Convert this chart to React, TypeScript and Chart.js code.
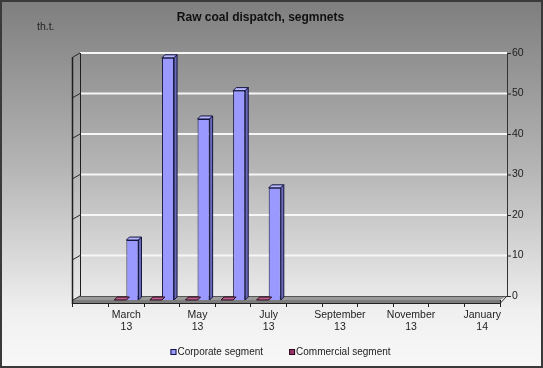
import React, { useEffect, useRef } from 'react';
import { Chart, registerables } from 'chart.js';

Chart.register(...registerables);

const titleText = 'Raw coal dispatch, segmnets';
const unitText = 'th.t.';
const categories = [
  'February 13', 'March 13', 'April 13', 'May 13', 'June 13', 'July 13',
  'August 13', 'September 13', 'October 13', 'November 13', 'December 13', 'January 14',
];
const tickLabels: string[][] = [
  [], ['March', '13'], [], ['May', '13'], [], ['July', '13'],
  [], ['September', '13'], [], ['November', '13'], [], ['January', '14'],
];
const corporate = [null, 14.8, 59.8, 44.7, 51.7, 27.7, null, null, null, null, null, null];
const commercial = [null, 0, 0, 0, 0, 0, null, null, null, null, null, null];
const yTicks = [0, 10, 20, 30, 40, 50, 60];
const legendOrder = [1, 0];

const FONT = "'Liberation Sans', Arial, sans-serif";
const WDX = 7; // wall depth x
const WDY = 4; // wall depth y
const BD = 3; // bar depth

const faceColors: Record<number, { top: string; side: string; line: string }> = {
  0: { top: '#b85c8a', side: '#662244', line: '#2a0a1a' },
  1: { top: '#b8b8ff', side: '#6a6ab8', line: '#141440' },
};

const decorPlugin = {
  id: 'decor3d',
  beforeDraw(chart: any) {
    const { ctx, width, height } = chart;
    ctx.save();
    const g = ctx.createLinearGradient(0, 0, 0, height);
    g.addColorStop(0, '#7e7e7e');
    g.addColorStop(0.45, '#b4b4b4');
    g.addColorStop(0.85, '#f0f0f0');
    g.addColorStop(1, '#f8f8f8');
    ctx.fillStyle = g;
    ctx.fillRect(0, 0, width, height);
    ctx.strokeStyle = '#3a3a3a';
    ctx.lineWidth = 2;
    ctx.strokeRect(1, 1, width - 2, height - 2);
    ctx.fillStyle = '#111';
    ctx.textBaseline = 'middle';
    ctx.textAlign = 'center';
    ctx.font = `bold 12px ${FONT}`;
    ctx.fillText(titleText, 260.5, 18);
    ctx.textAlign = 'left';
    ctx.font = `10.5px ${FONT}`;
    ctx.fillStyle = '#222';
    ctx.fillText(unitText, 37, 27);
    ctx.restore();
  },
  beforeDatasetsDraw(chart: any) {
    const { ctx, chartArea } = chart;
    const { left, right, top, bottom } = chartArea;
    const ys = chart.scales.y;
    ctx.save();
    // floor top surface
    ctx.beginPath();
    ctx.moveTo(left, bottom);
    ctx.lineTo(left + WDX, bottom - WDY);
    ctx.lineTo(right + WDX, bottom - WDY);
    ctx.lineTo(right, bottom);
    ctx.closePath();
    ctx.fillStyle = '#9a9a9a';
    ctx.fill();
    // floor front face
    ctx.fillStyle = '#7c7c7c';
    ctx.fillRect(left, bottom, right - left, 3);
    ctx.strokeStyle = '#222';
    ctx.lineWidth = 1;
    ctx.beginPath();
    ctx.moveTo(left, bottom + 3.5);
    ctx.lineTo(right, bottom + 3.5);
    ctx.stroke();
    // back wall gridlines
    yTicks.forEach((v) => {
      const p = ys.getPixelForValue(v) - WDY;
      if (v > 0) {
        ctx.strokeStyle = '#f6f6f6';
        ctx.lineWidth = 2;
        ctx.beginPath();
        ctx.moveTo(left + WDX, p);
        ctx.lineTo(right + WDX, p);
        ctx.stroke();
      }
      ctx.strokeStyle = '#2a2a2a';
      ctx.lineWidth = 1;
      ctx.beginPath();
      ctx.moveTo(left, p + WDY);
      ctx.lineTo(left + WDX, p);
      ctx.stroke();
      ctx.beginPath();
      ctx.moveTo(right + WDX, p + 0.5);
      ctx.lineTo(right + WDX + 4, p + 0.5);
      ctx.stroke();
    });
    ctx.strokeStyle = '#555';
    ctx.beginPath();
    ctx.moveTo(left + WDX, bottom - WDY + 0.5);
    ctx.lineTo(right + WDX, bottom - WDY + 0.5);
    ctx.stroke();
    ctx.strokeStyle = '#1e1e1e';
    ctx.lineWidth = 1.5;
    ctx.beginPath();
    ctx.moveTo(left - 0.5, top);
    ctx.lineTo(left - 0.5, bottom + 4);
    ctx.stroke();
    ctx.lineWidth = 1;
    ctx.beginPath();
    ctx.moveTo(left + WDX + 0.5, top - WDY);
    ctx.lineTo(left + WDX + 0.5, bottom - WDY);
    ctx.stroke();
    ctx.strokeStyle = '#333';
    ctx.beginPath();
    ctx.moveTo(right + WDX + 0.5, top - WDY);
    ctx.lineTo(right + WDX + 0.5, bottom - WDY);
    ctx.stroke();
    ctx.beginPath();
    ctx.moveTo(right, bottom + 3.5);
    ctx.lineTo(right + WDX, bottom - WDY);
    ctx.stroke();
    ctx.restore();
  },
  afterDatasetDraw(chart: any, args: any) {
    const { ctx } = chart;
    const meta = args.meta;
    const idx = args.index;
    const data = chart.data.datasets[idx].data;
    const c = faceColors[idx];
    ctx.save();
    ctx.lineWidth = 1;
    ctx.strokeStyle = c.line;
    meta.data.forEach((el: any, i: number) => {
      if (data[i] === null || data[i] === undefined) return;
      const { x, y, base, width } = el.getProps(['x', 'y', 'base', 'width'], true);
      const l = x - width / 2;
      const r = x + width / 2;
      ctx.beginPath();
      ctx.moveTo(l, y);
      ctx.lineTo(l + BD, y - BD);
      ctx.lineTo(r + BD, y - BD);
      ctx.lineTo(r, y);
      ctx.closePath();
      ctx.fillStyle = c.top;
      ctx.fill();
      ctx.stroke();
      if (base - y > 0.5) {
        ctx.beginPath();
        ctx.moveTo(r, y);
        ctx.lineTo(r + BD, y - BD);
        ctx.lineTo(r + BD, base - BD);
        ctx.lineTo(r, base);
        ctx.closePath();
        ctx.fillStyle = c.side;
        ctx.fill();
        ctx.stroke();
      }
    });
    ctx.restore();
  },
  afterDraw(chart: any) {
    // legend drawn from the datasets
    const { ctx } = chart;
    ctx.save();
    ctx.font = `10px ${FONT}`;
    ctx.textBaseline = 'middle';
    ctx.textAlign = 'left';
    const gap = 26;
    const items = legendOrder.map((i) => {
      const ds = chart.data.datasets[i];
      return { ds, w: 7 + ctx.measureText(ds.label).width };
    });
    const total = items.reduce((s, it) => s + it.w, 0) + gap * (items.length - 1);
    let x = 280.5 - total / 2;
    const cy = 352;
    items.forEach((it) => {
      ctx.fillStyle = it.ds.backgroundColor;
      ctx.fillRect(x, cy - 3, 6, 6);
      ctx.strokeStyle = it.ds.borderColor;
      ctx.lineWidth = 1;
      ctx.strokeRect(x + 0.5, cy - 2.5, 5, 5);
      ctx.fillStyle = '#222';
      ctx.fillText(it.ds.label, x + 7, cy);
      x += it.w + gap;
    });
    ctx.restore();
  },
};

export default function App() {
  const ref = useRef<HTMLCanvasElement>(null);
  useEffect(() => {
    document.body.style.margin = '0';
    const chart = new Chart(ref.current as HTMLCanvasElement, {
      type: 'bar',
      data: {
        labels: categories,
        datasets: [
          {
            label: 'Commercial segment',
            data: commercial,
            backgroundColor: '#993366',
            borderColor: '#2a0a1a',
            borderWidth: 1,
            categoryPercentage: 0.68,
            barPercentage: 1,
          },
          {
            label: 'Corporate segment',
            data: corporate,
            backgroundColor: '#9999ff',
            borderColor: '#141440',
            borderWidth: 1,
            categoryPercentage: 0.68,
            barPercentage: 1,
          },
        ],
      },
      options: {
        responsive: false,
        animation: false,
        devicePixelRatio: 1,
        layout: { padding: { left: 73, top: 57, right: 0, bottom: 28 } },
        plugins: {
          title: { display: false },
          tooltip: { enabled: false },
          legend: { display: false },
        },
        scales: {
          x: {
            grid: {
              display: true,
              drawOnChartArea: false,
              drawTicks: true,
              tickLength: 7,
              color: '#222',
              offset: true,
            },
            border: { display: false },
            ticks: {
              autoSkip: false,
              maxRotation: 0,
              minRotation: 0,
              padding: 2,
              color: '#222',
              font: { family: FONT, size: 10.5, lineHeight: 1.15 },
              callback: (_v: any, i: number) => tickLabels[i],
            },
            afterFit: (s: any) => {
              s.height = 40;
            },
          },
          y: {
            position: 'right',
            min: 0,
            max: 60,
            grid: { display: false, drawTicks: false },
            border: { display: false },
            ticks: {
              stepSize: 10,
              padding: 12,
              labelOffset: -WDY,
              color: '#222',
              font: { family: FONT, size: 10.5 },
            },
            afterFit: (s: any) => {
              s.width = 43;
            },
          },
        },
      },
      plugins: [decorPlugin],
    } as any);
    return () => chart.destroy();
  }, []);
  return (
    <div style={{ width: 543, height: 368 }}>
      <canvas ref={ref} width={543} height={368} style={{ display: 'block' }} />
    </div>
  );
}
